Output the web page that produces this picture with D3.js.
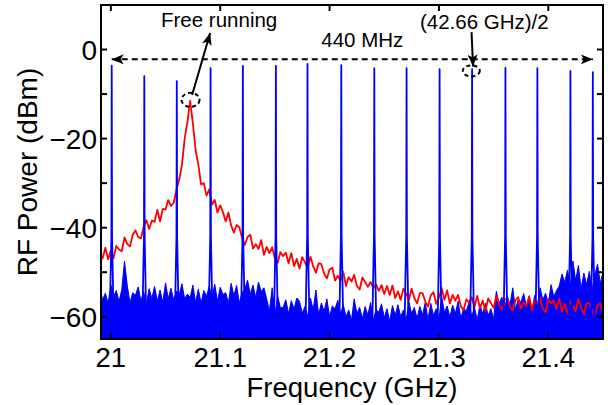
<!DOCTYPE html>
<html><head><meta charset="utf-8">
<script src="https://cdn.jsdelivr.net/npm/d3@7"></script>
<style>
body{margin:0;background:#fff}
svg{display:block}
text{font-family:"Liberation Sans",Arial,Helvetica,sans-serif;fill:#000}
</style>
</head><body>
<svg id="chart" width="608" height="405"></svg>
<script>
// ---------- data ----------
const xDomain = [20.991, 21.45];
const yDomain = [-65, 10];
const xTicks = [21, 21.1, 21.2, 21.3, 21.4];
const xTickLabels = ["21", "21.1", "21.2", "21.3", "21.4"];
const yTicks = [-60, -50, -40, -30, -20, -10, 0, 10];
const yLabelTicks = [-60, -40, -20, 0];
const yTickLabels = ["\u221260", "\u221240", "\u221220", "0"];
const xTitle = "Frequency (GHz)";
const yTitle = "RF Power (dBm)";

// sampled traces: frequency = traceStart + i*traceStep (GHz)
const traceStart = 20.99;
const traceStep = 0.0025;

// free running (red) trace, dBm
const redPower = [
-45.7,-46.9,-44.5,-47.1,-45.2,-46.8,-44.1,-44.9,-45.3,-42.2,
-43.7,-44.2,-41.6,-40.6,-42.1,-42.4,-39.8,-38.3,-40.3,-38.4,
-38.7,-36.0,-38.6,-35.8,-35.9,-33.8,-35.1,-34.4,-31.4,-29.2,
-25.9,-20.0,-16.3,-11.5,-16.6,-22.5,-25.9,-30.3,-30.0,-32.8,
-31.4,-34.8,-33.8,-36.6,-35.0,-36.5,-38.6,-36.6,-39.5,-41.1,
-39.4,-39.9,-42.3,-43.9,-42.1,-41.6,-44.7,-43.7,-44.8,-42.8,
-46.1,-44.3,-45.7,-44.4,-46.9,-47.9,-45.5,-46.4,-45.6,-48.0,
-45.7,-48.6,-47.0,-49.2,-46.6,-47.8,-49.1,-46.5,-48.7,-50.1,
-48.0,-48.2,-50.3,-51.4,-49.4,-49.0,-51.9,-50.8,-51.9,-49.9,
-53.1,-51.1,-52.1,-50.6,-53.1,-53.9,-51.2,-52.2,-53.3,-52.2,
-53.6,-52.7,-54.2,-52.9,-54.9,-53.1,-55.1,-53.0,-55.8,-54.3,
-56.2,-53.7,-54.8,-56.3,-53.7,-55.8,-57.0,-54.7,-54.7,-56.6,
-57.7,-55.2,-54.5,-57.1,-55.7,-53.6,-56.2,-54.1,-57.0,-55.1,
-56.4,-55.1,-57.6,-58.6,-56.1,-56.8,-55.6,-57.8,-55.3,-58.1,
-56.4,-58.7,-55.9,-56.9,-58.0,-55.2,-57.2,-58.4,-56.1,-56.0,
-57.8,-58.6,-56.3,-55.6,-58.2,-56.8,-57.6,-55.4,-58.5,-56.2,
-57.1,-55.8,-58.2,-59.0,-56.1,-57.0,-56.3,-58.3,-55.9,-58.8,
-57.1,-59.3,-56.5,-57.6,-58.7,-56.0,-58.0,-59.3,-57.0,-57.0,
-58.8,-59.7,-57.4,-57.0,-59.4
];

// injection-locked (blue) trace: noise floor top, dBm
const blueNoise = [
-53.5,-56.2,-54.7,-57.0,-52.8,-55.5,-54.1,-56.6,-53.9,-47.5,
-53.0,-56.9,-54.6,-55.2,-53.3,-56.4,-54.4,-57.2,-53.7,-55.9,
-53.2,-56.5,-54.0,-56.8,-52.4,-55.9,-53.6,-56.3,-54.2,-55.1,
-52.6,-56.0,-54.9,-55.7,-52.9,-56.8,-53.8,-57.0,-54.1,-55.4,
-53.1,-55.8,-52.7,-56.5,-53.4,-55.0,-54.6,-56.9,-52.5,-55.3,
-53.0,-56.9,-54.6,-53.7,-51.8,-54.9,-52.9,-55.7,-52.2,-54.4,
-53.5,-56.0,-58.7,-53.5,-59.5,-55.3,-58.0,-57.9,-56.2,-59.3,
-56.4,-58.3,-55.8,-56.5,-59.2,-57.7,-60.0,-55.8,-58.5,-54.0,
-59.6,-56.9,-58.8,-56.0,-59.9,-57.6,-58.2,-56.3,-59.4,-57.3,
-60.0,-58.5,-60.8,-56.0,-59.3,-57.9,-60.4,-57.7,-59.6,-56.8,
-60.7,-58.4,-59.0,-57.1,-60.2,-58.2,-61.0,-57.5,-59.7,-57.3,
-60.0,-58.5,-60.8,-56.6,-59.3,-57.9,-60.4,-57.7,-59.6,-56.8,
-60.7,-57.0,-59.7,-58.2,-60.5,-55.5,-59.0,-57.6,-60.1,-57.4,
-59.3,-56.5,-60.4,-58.1,-58.7,-56.8,-59.9,-57.9,-60.7,-57.2,
-59.4,-57.0,-59.7,-58.2,-60.5,-54.3,-57.0,-55.6,-58.1,-55.4,
-57.3,-53.5,-58.4,-56.1,-56.7,-54.8,-57.9,-55.9,-58.7,-55.2,
-57.4,-53.5,-56.2,-54.7,-57.0,-52.8,-55.5,-54.1,-53.1,-50.4,
-52.3,-49.5,-53.4,-47.5,-51.9,-48.5,-53.7,-50.2,-52.8,-49.8,
-54.0,-50.6,-48.2,-52.5,-50.0
];

// injection-locked comb lines
const spikeFreq = [21.0008,21.0306,21.0603,21.0912,21.1207,21.1509,21.1798,21.2107,
                   21.2409,21.2704,21.3006,21.3303,21.3608,21.3900,21.4202,21.4407];
const spikePeak = [-3.6,-6.0,-7.1,-4.2,-3.7,-3.7,-3.2,-3.5,
                   -4.2,-4.2,-4.4,-4.4,-4.1,-4.2,-4.8,-5.1];

// annotations (data coordinates)
const spanArrow = {f0: 21.0008, f1: 21.4407, p: -2.2};
const spanText = {text: "440 MHz", f: 21.2299, p: 0.6};
const freeText = {text: "Free running", f: 21.099, p: 5.05};
const freeArrow = {f0: 21.0743, p0: -10.2, f1: 21.0908, p1: 3.7};
const freeCircle = {f: 21.0729, p: -11.3};
const combText = {text: "(42.66 GHz)/2", f: 21.3415, p: 4.5};
const combArrow = {f0: 21.3298, p0: 3.9, f1: 21.3312, p1: -3.8};
const combCircle = {f: 21.3296, p: -4.8};

// ---------- drawing ----------
const W = 608, H = 405;
const m = {l: 101, r: 5, t: 5, b: 66};
const svg = d3.select("#chart");
const x = d3.scaleLinear().domain(xDomain).range([m.l, W - m.r]);
const y = d3.scaleLinear().domain(yDomain).range([H - m.b, m.t]);
const x0 = x.range()[0], x1 = x.range()[1], y0 = y.range()[0], y1 = y.range()[1];

const defs = svg.append("defs");
defs.append("clipPath").attr("id", "clip")
  .append("rect").attr("x", x0).attr("y", y1).attr("width", x1 - x0).attr("height", y0 - y1);
defs.append("marker").attr("id", "ah").attr("viewBox", "0 0 12 10")
  .attr("refX", 12).attr("refY", 5).attr("markerWidth", 12).attr("markerHeight", 10)
  .attr("markerUnits", "userSpaceOnUse").attr("orient", "auto-start-reverse")
  .append("path").attr("d", "M0,0 L12,5 L0,10 L3,5 Z").attr("fill", "#000");

const plot = svg.append("g").attr("clip-path", "url(#clip)");
const fx = i => traceStart + i * traceStep;

// blue noise floor (filled)
const blueArea = d3.area().x((d, i) => x(fx(i))).y0(y(yDomain[0])).y1(d => y(d));
plot.append("path").datum(blueNoise).attr("d", blueArea)
  .attr("fill", "#0000ff").attr("stroke", "#0000ff").attr("stroke-width", 1);

// red free-running trace
const line = d3.line().x((d, i) => x(fx(i))).y(d => y(d));
plot.append("path").datum(redPower).attr("d", line)
  .attr("fill", "none").attr("stroke", "#ff0000").attr("stroke-width", 1.8)
  .attr("stroke-linejoin", "round");

// blue comb lines
const spikeLine = d3.line().x(d => x(d[0])).y(d => y(d[1]));
spikeFreq.forEach((f, k) => {
  const pts = [[f - 0.0018, -62], [f - 0.0011, -52], [f - 0.0003, -42], [f, spikePeak[k]],
               [f + 0.0003, -42], [f + 0.0011, -52], [f + 0.0018, -62]];
  plot.append("path").attr("d", spikeLine(pts)).attr("fill", "none")
    .attr("stroke", "#0000ff").attr("stroke-width", 1.8).attr("stroke-linejoin", "round");
});

// axes box and ticks
const ax = svg.append("g");
ax.append("rect").attr("x", x0).attr("y", y1).attr("width", x1 - x0).attr("height", y0 - y1)
  .attr("fill", "none").attr("stroke", "#000").attr("stroke-width", 2);
const tl = 6;
xTicks.forEach((t, k) => {
  ax.append("line").attr("x1", x(t)).attr("x2", x(t)).attr("y1", y0).attr("y2", y0 - tl).attr("stroke", "#000").attr("stroke-width", 2);
  ax.append("line").attr("x1", x(t)).attr("x2", x(t)).attr("y1", y1).attr("y2", y1 + tl).attr("stroke", "#000").attr("stroke-width", 2);
  ax.append("text").attr("x", x(t)).attr("y", y0 + 28).attr("text-anchor", "middle")
    .attr("font-size", 27.5).text(xTickLabels[k]);
});
yTicks.forEach(t => {
  ax.append("line").attr("x1", x0).attr("x2", x0 + tl).attr("y1", y(t)).attr("y2", y(t)).attr("stroke", "#000").attr("stroke-width", 2);
  ax.append("line").attr("x1", x1).attr("x2", x1 - tl).attr("y1", y(t)).attr("y2", y(t)).attr("stroke", "#000").attr("stroke-width", 2);
});
yLabelTicks.forEach((t, k) => {
  ax.append("text").attr("x", x0 - 4).attr("y", y(t)).attr("dy", "0.36em").attr("text-anchor", "end")
    .attr("font-size", 28).text(yTickLabels[k]);
});
ax.append("text").attr("x", (x0 + x1) / 2).attr("y", 397).attr("text-anchor", "middle")
  .attr("font-size", 27.5).text(xTitle);
ax.append("text").attr("transform", `translate(37,${(y0 + y1) / 2}) rotate(-90)`)
  .attr("text-anchor", "middle").attr("font-size", 28).text(yTitle);

// annotations
const an = svg.append("g");
an.append("line").attr("x1", x(spanArrow.f0)).attr("x2", x(spanArrow.f1))
  .attr("y1", y(spanArrow.p)).attr("y2", y(spanArrow.p))
  .attr("stroke", "#000").attr("stroke-width", 2).attr("stroke-dasharray", "6,4")
  .attr("marker-start", "url(#ah)").attr("marker-end", "url(#ah)");
an.append("text").attr("x", x(spanText.f)).attr("y", y(spanText.p)).attr("text-anchor", "middle")
  .attr("font-size", 20.5).text(spanText.text);
an.append("text").attr("x", x(freeText.f)).attr("y", y(freeText.p)).attr("text-anchor", "middle")
  .attr("font-size", 20.5).text(freeText.text);
an.append("line").attr("x1", x(freeArrow.f0)).attr("y1", y(freeArrow.p0))
  .attr("x2", x(freeArrow.f1)).attr("y2", y(freeArrow.p1))
  .attr("stroke", "#000").attr("stroke-width", 2).attr("marker-end", "url(#ah)");
an.append("ellipse").attr("cx", x(freeCircle.f)).attr("cy", y(freeCircle.p)).attr("rx", 9).attr("ry", 7)
  .attr("fill", "none").attr("stroke", "#000").attr("stroke-width", 2).attr("stroke-dasharray", "4,3");
an.append("text").attr("x", x(combText.f)).attr("y", y(combText.p)).attr("text-anchor", "middle")
  .attr("font-size", 20.5).text(combText.text);
an.append("line").attr("x1", x(combArrow.f0)).attr("y1", y(combArrow.p0))
  .attr("x2", x(combArrow.f1)).attr("y2", y(combArrow.p1))
  .attr("stroke", "#000").attr("stroke-width", 2).attr("marker-end", "url(#ah)");
an.append("ellipse").attr("cx", x(combCircle.f)).attr("cy", y(combCircle.p)).attr("rx", 8.5).attr("ry", 5.5)
  .attr("fill", "none").attr("stroke", "#000").attr("stroke-width", 2).attr("stroke-dasharray", "4,3");
</script>
</body></html>
